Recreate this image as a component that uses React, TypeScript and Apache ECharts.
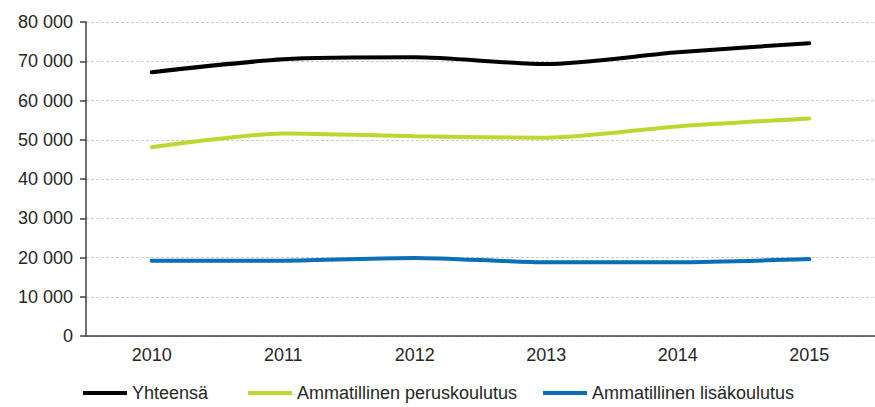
import React, { useEffect, useRef } from "react";
import * as echarts from "echarts";

const years = ["2010", "2011", "2012", "2013", "2014", "2015"];
const yhteensa = [67200, 70500, 71000, 69300, 72300, 74600];
const peruskoulutus = [48100, 51600, 50900, 50500, 53400, 55400];
const lisakoulutus = [19200, 19200, 19900, 18800, 18800, 19600];
const seriesNames = ["Yhteensä", "Ammatillinen peruskoulutus", "Ammatillinen lisäkoulutus"];
const seriesColors = ["#000000", "#bed62f", "#0a6fb4"];
const legendLefts = [83, 248, 543];

const fmt = (v: number) => String(v).replace(/\B(?=(\d{3})+(?!\d))/g, " ");

export default function App() {
  const ref = useRef<HTMLDivElement>(null);
  useEffect(() => {
    document.body.style.margin = "0";
    const chart = echarts.init(ref.current!, null, { renderer: "svg" });
    const font = "Liberation Sans, Arial, sans-serif";
    const data = [yhteensa, peruskoulutus, lisakoulutus];
    chart.setOption({
      animation: false,
      backgroundColor: "#ffffff",
      textStyle: { fontFamily: font },
      grid: { left: 86, top: 22, width: 795, bottom: 71 },
      legend: seriesNames.map((name, i) => ({
        left: legendLefts[i],
        top: 383,
        padding: 0,
        itemWidth: 44,
        itemHeight: 4,
        icon: "rect",
        textStyle: { fontSize: 18, color: "#262626", fontFamily: font, lineHeight: 20 },
        data: [name],
      })),
      xAxis: {
        type: "category",
        data: years,
        boundaryGap: true,
        axisLine: { lineStyle: { color: "#404040", width: 1.5 } },
        axisTick: { alignWithLabel: true, length: 5, lineStyle: { color: "#404040", width: 1.5 } },
        axisLabel: { fontSize: 18, color: "#262626", margin: 10, fontFamily: font },
      },
      yAxis: {
        type: "value",
        min: 0,
        max: 80000,
        interval: 10000,
        axisLine: { show: true, lineStyle: { color: "#404040", width: 1.5 } },
        axisTick: { show: true, length: 6, lineStyle: { color: "#404040", width: 1.5 } },
        axisLabel: { fontSize: 18, color: "#262626", margin: 13, formatter: fmt, fontFamily: font },
        splitLine: { show: true, lineStyle: { color: "#cccccc", type: [3, 2], width: 1 } },
      },
      series: seriesNames.map((name, i) => ({
        name,
        type: "line",
        data: data[i],
        smooth: 0.25,
        symbol: "none",
        lineStyle: { color: seriesColors[i], width: 4, cap: "round" },
        itemStyle: { color: seriesColors[i] },
      })),
    });
    return () => chart.dispose();
  }, []);
  return <div ref={ref} style={{ width: 875, height: 407 }} />;
}
